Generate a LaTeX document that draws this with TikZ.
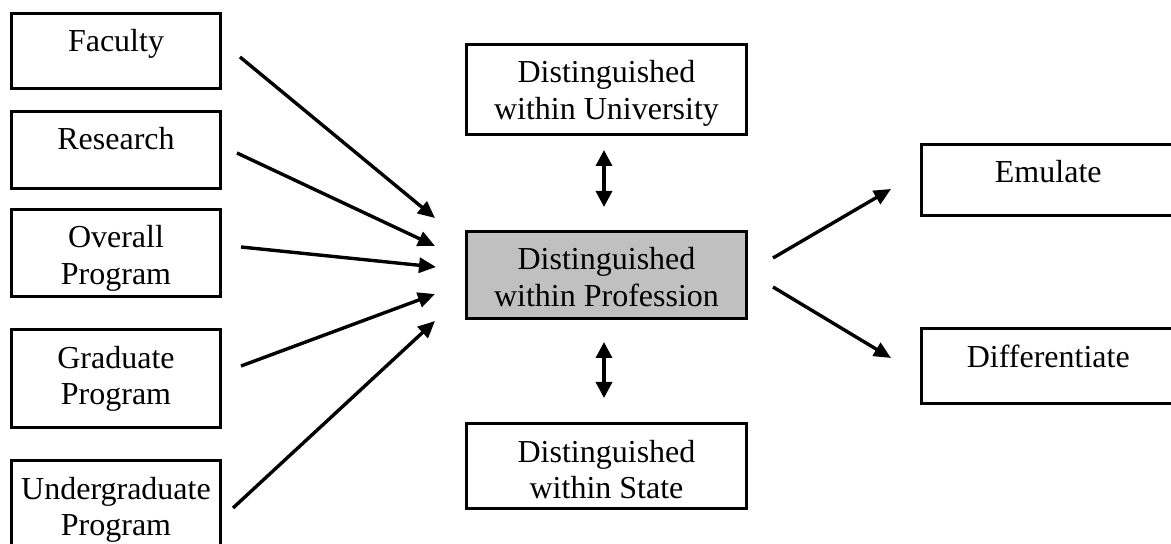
\documentclass[tikz,border=0pt]{standalone}
\usepackage{fontspec}
\setmainfont{Liberation Serif}
\usetikzlibrary{arrows.meta}
\newcommand{\bxt}[3]{\parbox[c][#2][t]{#1}{\centering\rule{0pt}{38.5bp}#3}}
\tikzset{
  boxnode/.style={draw, line width=3.4bp, inner sep=0pt, outer sep=0pt, anchor=north west,
    font=\fontsize{32bp}{36.8bp}\selectfont},
  conn/.style={line width=3.4bp, -{Triangle[length=17bp,width=15bp]}},
  biconn/.style={line width=3.4bp, {Triangle[length=16bp,width=16bp]}-{Triangle[length=16bp,width=16bp]}},
  graybox/.style={fill={rgb,255:red,192;green,192;blue,192}}
}
\begin{document}
\begin{tikzpicture}[x=1bp,y=-1bp]
\useasboundingbox (0,0) rectangle (1171,544);
\clip (0,0) rectangle (1171,544);
\fill[white] (0,0) rectangle (1171,544);
% left column
\node[boxnode] (fac) at (11.5,13.5) {\bxt{209bp}{75bp}{Faculty}};
\node[boxnode] (res) at (11.5,111.5) {\bxt{209bp}{77bp}{Research}};
\node[boxnode] (ovr) at (11.5,209.5) {\bxt{209bp}{87bp}{Overall\\Program}};
\node[boxnode] (grd) at (11.5,329.5) {\bxt{209bp}{98bp}{Graduate\\Program}};
\node[boxnode] (und) at (11.5,460.5) {\bxt{209bp}{110bp}{Undergraduate\\Program}};
% centre column
\node[boxnode] (uni) at (466.5,44.5) {\bxt{280bp}{90bp}{Distinguished\\within University}};
\node[boxnode,graybox] (pro) at (466.5,231.5) {\bxt{280bp}{87bp}{Distinguished\\within Profession}};
\node[boxnode] (sta) at (466.5,423.5) {\bxt{280bp}{85bp}{Distinguished\\within State}};
% right column
\node[boxnode] (emu) at (921.5,144.5) {\bxt{253.5bp}{71bp}{Emulate}};
\node[boxnode] (dif) at (921.5,328.5) {\bxt{253.5bp}{75bp}{Differentiate}};
% arrow end points
\coordinate (f1) at (240,57);  \coordinate (f2) at (435,218);
\coordinate (r1) at (237,153); \coordinate (r2) at (435,246);
\coordinate (o1) at (241,247); \coordinate (o2) at (436,267);
\coordinate (g1) at (241,366); \coordinate (g2) at (435,294);
\coordinate (u1) at (233,508); \coordinate (u2) at (435,321);
\coordinate (v1) at (604,150); \coordinate (v2) at (604,207);
\coordinate (w1) at (604,342); \coordinate (w2) at (604,398);
\coordinate (e1) at (773,258); \coordinate (e2) at (891,189);
\coordinate (d1) at (773,287); \coordinate (d2) at (891,358);
\draw[conn] (f1) -- (f2);
\draw[conn] (r1) -- (r2);
\draw[conn] (o1) -- (o2);
\draw[conn] (g1) -- (g2);
\draw[conn] (u1) -- (u2);
\draw[biconn] (v1) -- (v2);
\draw[biconn] (w1) -- (w2);
\draw[conn] (e1) -- (e2);
\draw[conn] (d1) -- (d2);
\end{tikzpicture}
\end{document}
